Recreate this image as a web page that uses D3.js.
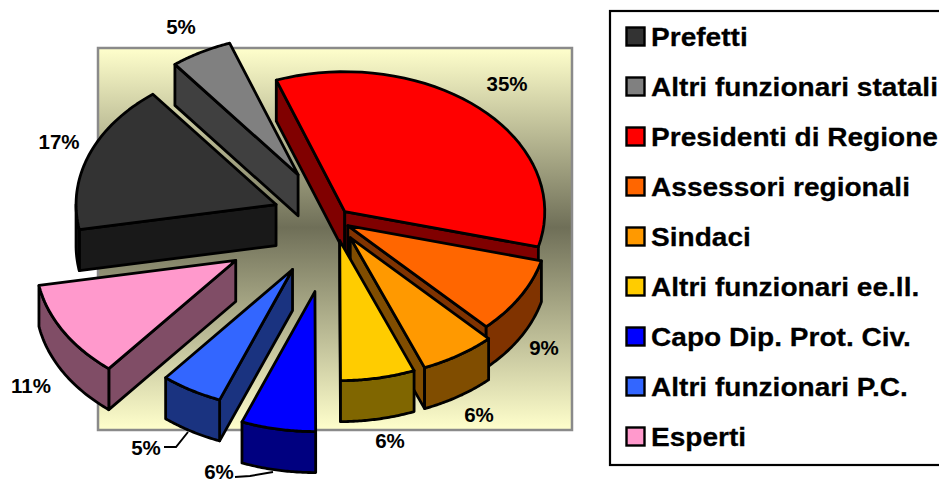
<!DOCTYPE html>
<html><head><meta charset="utf-8">
<style>html,body{margin:0;padding:0;background:#fff;overflow:hidden}svg{display:block}
text{font-family:"Liberation Sans",Arial,sans-serif;font-weight:bold;fill:#000}</style>
<script src="https://cdn.jsdelivr.net/npm/d3@7/dist/d3.min.js"></script></head><body>
<svg id="c" width="939" height="481"></svg>
<script>
// Data
const categories = ["Prefetti","Altri funzionari statali","Presidenti di Regione","Assessori regionali","Sindaci","Altri funzionari ee.ll.","Capo Dip. Prot. Civ.","Altri funzionari P.C.","Esperti"];
const values = [17.3,5,34.6,8.8,6.1,6,6,5,11.2];
const colors = ["#333333","#808080","#ff0000","#ff6600","#ff9900","#ffcc00","#0000ff","#3366ff","#ff99cc"];
const wallColors = ["#191919","#404040","#800000","#803300","#804d00","#806600","#000080","#1a3380","#804d66"];
const explode = [0.31,0.37,0.08,0.08,0.15,0.15,0.52,0.41,0.57];

// Layout
const W=939,H=481, cx=334, cy=220, rx=200, ry=140, depth=41, start=-100.3;
const labelAt=[[59,142],[181,27],[507,84],[544,348],[479,415],[390,441],[219,472],[146,448],[31,386]];
const leaders=[[[164,447],[176,447],[188,432]],[[235,477],[250,476],[273,472]]];

const svg=d3.select("#c");
const rad=d=>d*Math.PI/180;
const defs=svg.append("defs");
const g=defs.append("linearGradient").attr("id","bg").attr("x1",0).attr("x2",0).attr("y1",0).attr("y2",1);
g.selectAll("stop").data([[0,"#ffffcc"],[0.47,"#6f6f58"],[1,"#ffffcc"]]).join("stop")
 .attr("offset",d=>d[0]).attr("stop-color",d=>d[1]);
svg.append("rect").attr("x",98).attr("y",48).attr("width",474).attr("height",382)
 .attr("fill","url(#bg)").attr("stroke","#8a8a8a").attr("stroke-width",2.5);

const pie=d3.pie().sort(null).startAngle(rad(start)).endAngle(rad(start+360)).value(d=>d);
const arcs=pie(values).map((a,i)=>{
  const mid=(a.startAngle+a.endAngle)/2, k=explode[i];
  return {i,a0:a.startAngle,a1:a.endAngle,
    ax:cx+k*rx*Math.sin(mid), ay:cy-k*ry*Math.cos(mid)};
});
arcs.sort((p,q)=>p.ay-q.ay);
const line=d3.line().x(d=>d[0]).y(d=>d[1]);
const rim=(s,t)=>[s.ax+rx*Math.sin(t), s.ay-ry*Math.cos(t)];
const sample=(a,b)=>d3.range(0,41).map(j=>a+(b-a)*j/40);
const TAU=2*Math.PI;
const norm=t=>((t%TAU)+TAU)%TAU;
const style=(sel,fill)=>sel.attr("fill",fill).attr("stroke","#000").attr("stroke-width",2.8).attr("stroke-linejoin","round");

const slices=svg.selectAll("g.slice").data(arcs).join("g").attr("class","slice");
slices.each(function(s){
  const G=d3.select(this), wall=wallColors[s.i];
  const radial=t=>{
    const e=rim(s,t);
    style(G.append("path").attr("d",line([[s.ax,s.ay],e,[e[0],e[1]+depth],[s.ax,s.ay+depth]])+"Z"),wall);
  };
  const n0=norm(s.a0), n1=norm(s.a1);
  if(n0>Math.PI+1e-3) radial(s.a0);
  if(n1>1e-3 && n1<Math.PI-1e-3) radial(s.a1);
  // outer wall: front half of the ellipse only
  const lo=Math.max(s.a0,Math.PI/2 - (s.a0<0?TAU:0)), hi=Math.min(s.a1,3*Math.PI/2 - (s.a0<0?TAU:0));
  if(hi>lo){
    const top=sample(lo,hi).map(t=>rim(s,t));
    const bot=top.slice().reverse().map(p=>[p[0],p[1]+depth]);
    style(G.append("path").attr("d",line(top.concat(bot))+"Z"),wall);
  }
  const pts=[[s.ax,s.ay]].concat(sample(s.a0,s.a1).map(t=>rim(s,t)));
  style(G.append("path").attr("d",line(pts)+"Z"),colors[s.i]);
});

// Leaders and percentage labels
svg.selectAll("path.leader").data(leaders).join("path").attr("class","leader")
 .attr("d",d=>line(d)).attr("fill","none").attr("stroke","#000").attr("stroke-width",2);
const fmt=d3.format(".0%");
svg.selectAll("text.pct").data(values).join("text").attr("class","pct")
 .attr("x",(d,i)=>labelAt[i][0]).attr("y",(d,i)=>labelAt[i][1])
 .attr("text-anchor","middle").attr("dy","0.36em").attr("font-size",20.5)
 .text(d=>fmt(d/100));

// Legend
svg.append("rect").attr("x",610).attr("y",11).attr("width",340).attr("height",454)
 .attr("fill","#fff").attr("stroke","#000").attr("stroke-width",2.2);
const ly=d3.scalePoint().domain(categories).range([37,437]);
const items=svg.selectAll("g.item").data(categories).join("g").attr("class","item")
 .attr("transform",d=>`translate(0,${ly(d)})`);
items.append("rect").attr("x",626.5).attr("y",-9.5).attr("width",18).attr("height",18)
 .attr("fill",(d,i)=>colors[i]).attr("stroke","#000").attr("stroke-width",2.4);
items.append("text").attr("transform","translate(651,0) scale(1.08,1)").attr("dy","0.36em").attr("font-size",26).attr("stroke","#000").attr("stroke-width",0.25).text(d=>d);
</script></body></html>
